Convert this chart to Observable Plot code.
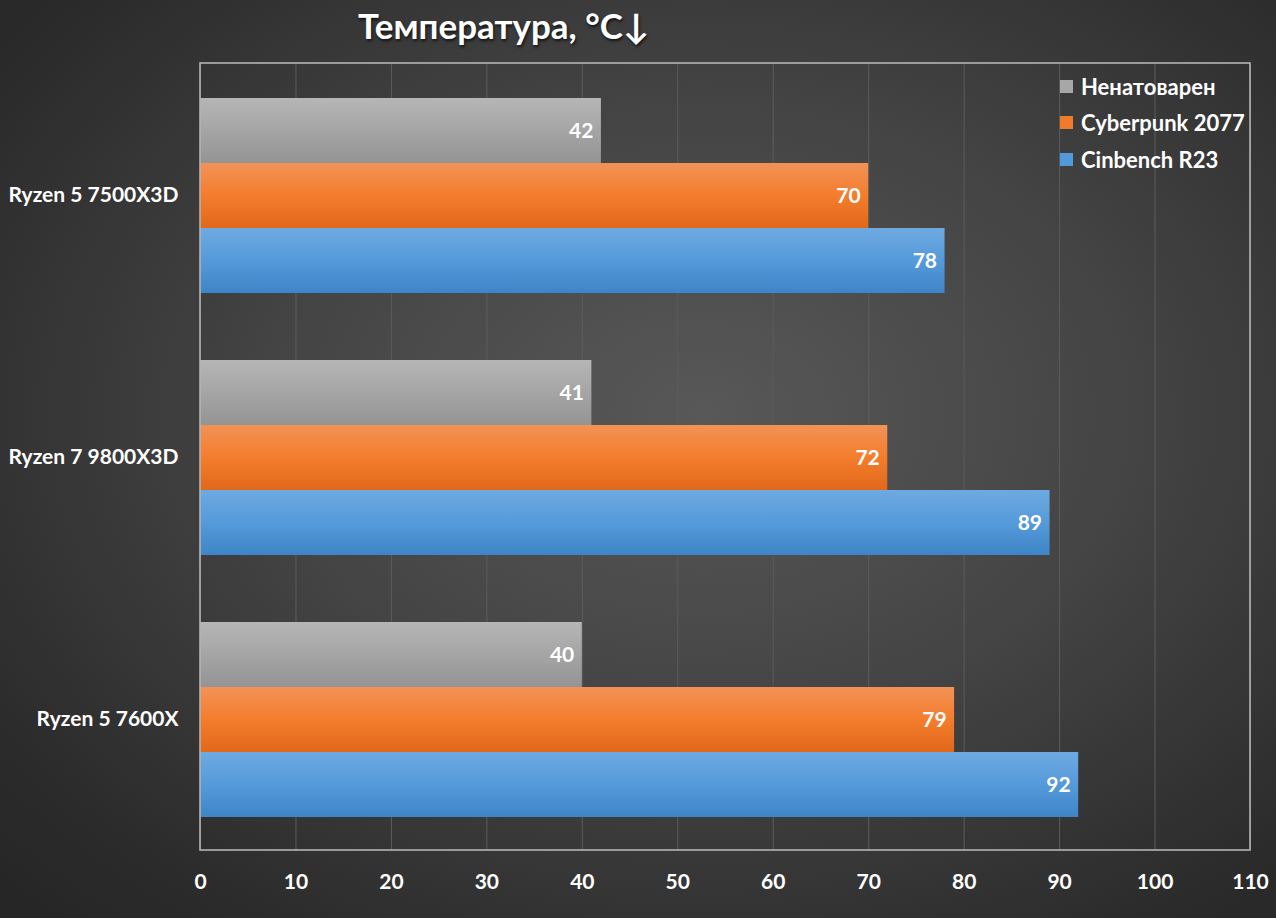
<!DOCTYPE html>
<html>
<head>
<meta charset="utf-8">
<script src="https://cdn.jsdelivr.net/npm/d3@7"></script>
<script src="https://cdn.jsdelivr.net/npm/@observablehq/plot@0.6"></script>
<style>
  html, body { margin: 0; padding: 0; }
  body {
    width: 1276px; height: 918px; overflow: hidden; position: relative;
    background: radial-gradient(ellipse 75% 75% at 55% 45%, #585858 0%, #444 45%, #2c2c2c 85%, #262626 100%);
    font-family: Lato, "Open Sans", sans-serif;
  }
  #title {
    position: absolute; left: 358px; top: 4px;
    color: #fff; font-size: 35px; font-weight: bold;
    text-shadow: 1px 2px 3px rgba(0,0,0,0.7);
    white-space: nowrap;
  }
  #legend { position: absolute; left: 1060px; top: 68px; color: #fff; font-size: 22px; font-weight: bold; }
  #legend .row { height: 36.5px; display: flex; align-items: center; white-space: nowrap; }
  #legend .sw { width: 13px; height: 13px; margin-right: 8px; }
  #chart { position: absolute; left: 0; top: 0; }
</style>
</head>
<body>
<div id="title">Температура, °C↓</div>
<div id="chart"></div>
<div id="legend"></div>
<script>
const cpus = ["Ryzen 5 7500X3D", "Ryzen 7 9800X3D", "Ryzen 5 7600X"];
const series = ["Ненатоварен", "Cyberpunk 2077", "Cinbench R23"];
const idle = [42, 41, 40];
const cyberpunk = [70, 72, 79];
const cinebench = [78, 89, 92];
const xTicks = [0, 10, 20, 30, 40, 50, 60, 70, 80, 90, 100, 110];

const seriesValues = [idle, cyberpunk, cinebench];
const rows = [];
cpus.forEach((cpu, i) => {
  series.forEach((s, j) => rows.push({cpu, series: s, value: seriesValues[j][i]}));
});

const gradStops = [
  [["0%", "#b6b6b6"], ["100%", "#949494"]],
  [["0%", "#f29257"], ["50%", "#f47d2d"], ["100%", "#e1681a"]],
  [["0%", "#6eaae1"], ["50%", "#559ada"], ["100%", "#3e85c7"]]
];
const legendColors = ["#a7a7a7", "#f07b2a", "#509adb"];

const W = 1276, H = 918;
const mL = 200, mR = 26, mT = 63, mB = 68;

const chart = Plot.plot({
  width: W, height: H,
  marginLeft: mL, marginRight: mR, marginTop: mT, marginBottom: mB,
  style: {background: "transparent", color: "#fff", fontFamily: "Lato, 'Open Sans', sans-serif", fontSize: "21px", fontWeight: "bold"},
  facet: {data: rows, y: "cpu"},
  fy: {domain: cpus, paddingInner: 0, paddingOuter: 0, label: null, tickSize: 0, tickPadding: 22},
  y: {domain: series, paddingInner: 0, paddingOuter: 0.5, axis: null},
  x: {domain: [0, 110], ticks: xTicks, tickSize: 0, tickPadding: 24, label: null, tickFormat: d => String(d)},
  color: {domain: series, range: ["url(#g0)", "url(#g1)", "url(#g2)"]},
  marks: [
    Plot.gridX(xTicks, {stroke: "#5c5c5c", strokeOpacity: 1, strokeWidth: 1}),
    Plot.barX(rows, {x: "value", y: "series", fill: "series"}),
    Plot.text(rows, {x: "value", y: "series", text: d => String(d.value), textAnchor: "end", dx: -8, fill: "#fff", fontSize: 21, fontWeight: "bold"})
  ]
});

const svg = d3.select(chart);
const defs = svg.insert("defs", ":first-child");
gradStops.forEach((stops, i) => {
  const g = defs.append("linearGradient").attr("id", "g" + i).attr("x1", 0).attr("y1", 0).attr("x2", 0).attr("y2", 1);
  stops.forEach(([o, c]) => g.append("stop").attr("offset", o).attr("stop-color", c));
});
const xs = chart.scale("x");
svg.append("rect")
  .attr("x", xs.apply(0)).attr("y", mT)
  .attr("width", xs.apply(110) - xs.apply(0)).attr("height", H - mT - mB)
  .attr("fill", "none").attr("stroke", "#b4b4b4").attr("stroke-width", 1.6);

document.getElementById("chart").appendChild(chart);

const legend = d3.select("#legend");
series.forEach((s, i) => {
  const r = legend.append("div").attr("class", "row");
  r.append("div").attr("class", "sw").style("background", legendColors[i]);
  r.append("span").text(s);
});
</script>
</body>
</html>
